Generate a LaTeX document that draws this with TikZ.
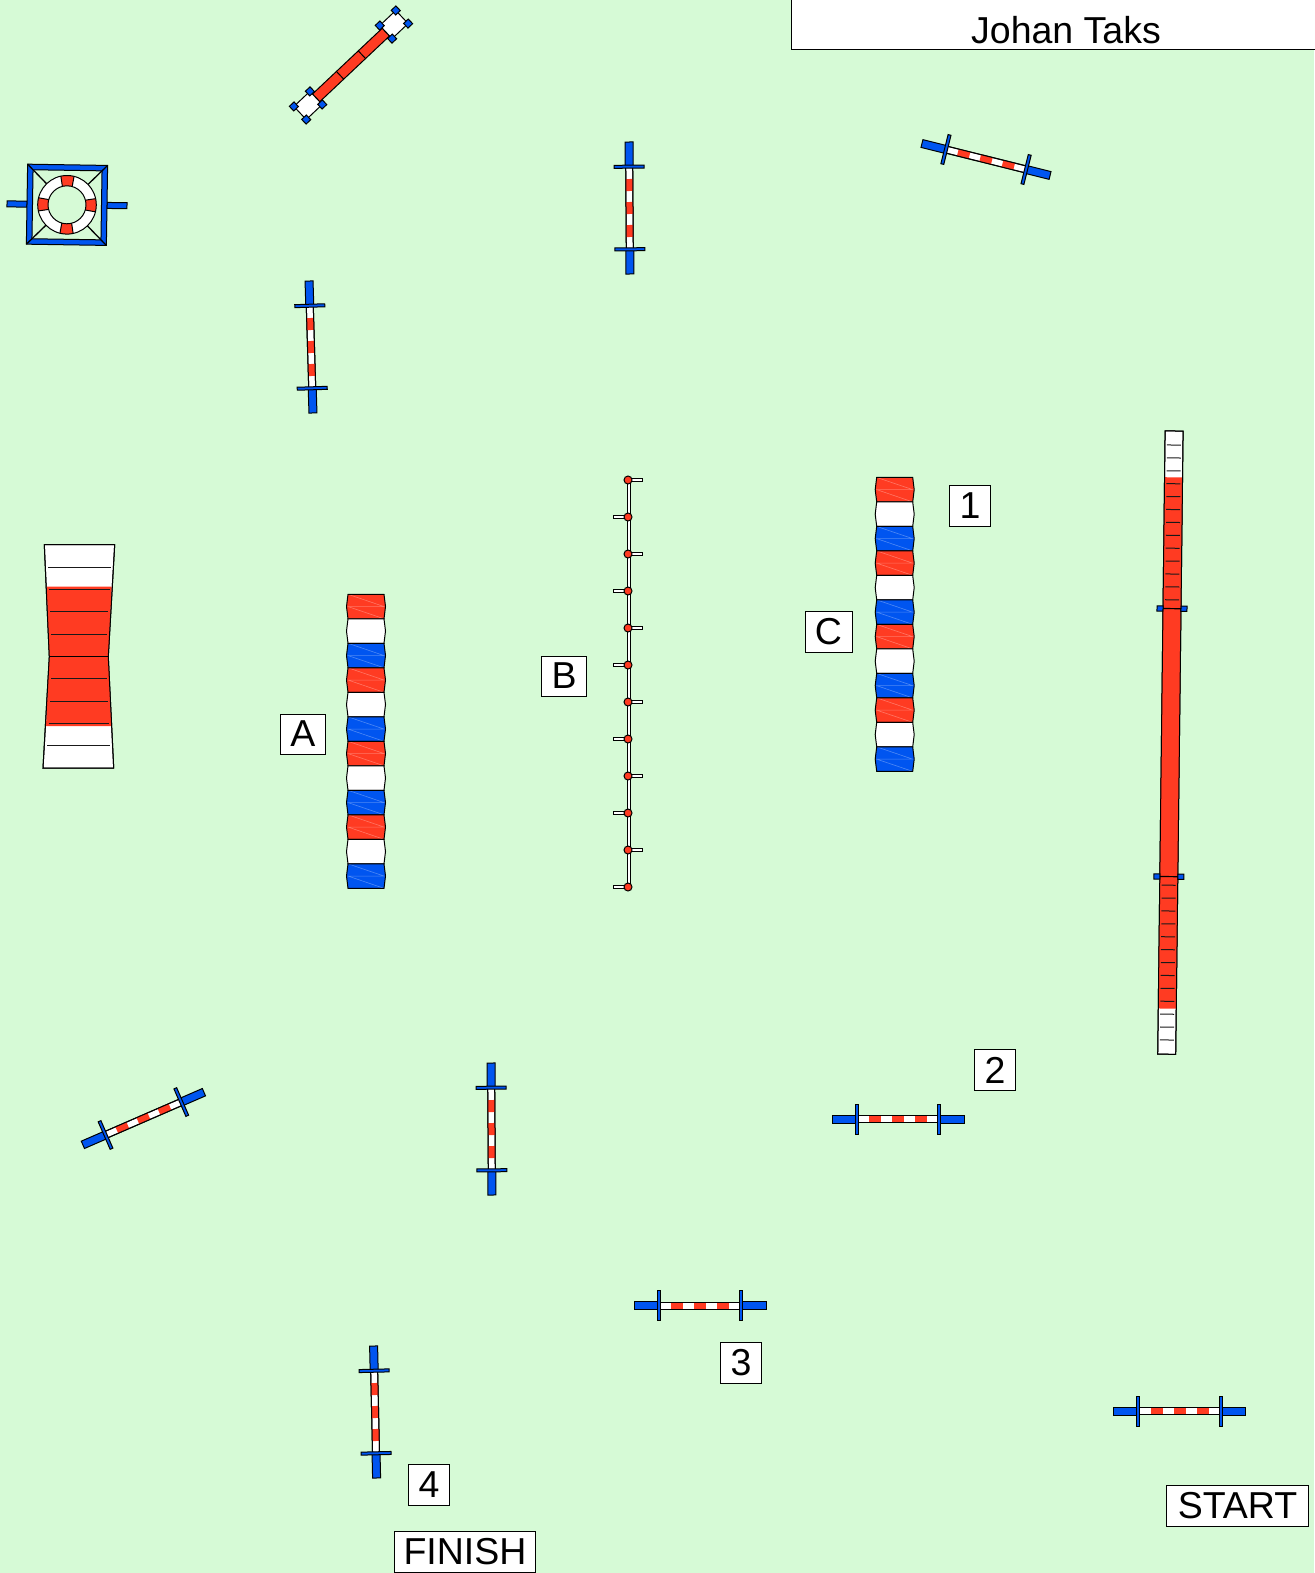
\documentclass[tikz,border=0pt]{standalone}
\usepackage{fontspec}
\setmainfont{Liberation Sans}
\definecolor{turf}{HTML}{D6FAD6}
\definecolor{obred}{HTML}{FF3B22}
\definecolor{obblue}{HTML}{0055F0}

\begin{document}
\begin{tikzpicture}[
  x=1pt,y=-1pt,
  line/.style={draw=black,line width=1pt},
  tick/.style={draw=black!90,line width=1pt},
  label/.style={draw=black,line width=0.7pt,fill=white,inner sep=0pt,font=\fontsize{37.5}{42}\selectfont,text=black},
  hurdle/.pic={
    \draw[line,fill=white] (-41,-3.5) rectangle (41,3.5);
    \foreach \s in {-29,-6,17}
      \fill[obred] (\s,-3.5) rectangle (\s+12,3.5);
    \draw[line] (-41,-3.5) rectangle (41,3.5);
    \draw[line,fill=obblue] (-66,-4) rectangle (-41,4);
    \draw[line,fill=obblue] (41,-4) rectangle (66,4);
    \draw[line,fill=obblue] (-42.8,-15) rectangle (-39.8,15);
    \draw[line,fill=obblue] (39.8,-15) rectangle (42.8,15);
  },
  tubeseg/.pic={
    \path[pic actions] (-18,0)--(18,0)--(19.5,12.25)--(18,24.5)--(-18,24.5)--(-19.5,12.25)--cycle;
    \draw[white,opacity=0.3,line width=0.6pt] (-18,0)--(18,12.25)--(-18,12.25)--(18,24.5);
    \draw[line] (-18,0)--(18,0)--(19.5,12.25)--(18,24.5)--(-18,24.5)--(-19.5,12.25)--cycle;
  },
  tube/.pic={
    \foreach \i/\c in {0/obred,1/white,2/obblue,3/obred,4/white,5/obblue,6/obred,7/white,8/obblue,9/obred,10/white,11/obblue}
      \pic[fill=\c] at (0,24.5*\i) {tubeseg};
  },
]
\useasboundingbox (0,0) rectangle (1314,1573);
\fill[turf] (0,0) rectangle (1314,1573);

\node[label,anchor=north west,minimum width=530pt,minimum height=51.5pt] (owner) at (790.5,-2) {};
\node[font=\fontsize{37.5}{42}\selectfont] (ownertext) at (1066,30) {Johan Taks};

\pic at (986,159.5) [rotate=-14] {hurdle};
\pic at (629.5,208) [rotate=-89.6] {hurdle};
\pic at (311,347) [rotate=-88.3] {hurdle};
\pic at (143.4,1118.5) [rotate=23.5] {hurdle};
\pic at (491.5,1129) [rotate=-89.6] {hurdle};
\pic at (898,1119) {hurdle};
\pic at (700,1305.5) {hurdle};
\pic at (375.1,1412) [rotate=-88.7] {hurdle};
\pic at (1179.5,1411) {hurdle};

% tyre
\begin{scope}[shift={(67,204.8)},rotate=-0.9]
  \draw[line,fill=obblue] (-60,-3) rectangle (-40,3);
  \draw[line,fill=obblue] (40,-3) rectangle (60,3);
  \foreach \a in {45,135,225,315}
    \draw[draw=black,line width=1.3pt] (\a:56.5pt)--(\a:29pt);
  \fill[white,even odd rule] (0,0) circle (29.3) (0,0) circle (19);
  \foreach \a in {0,90,180,270}
    \fill[obred] (\a-15:19pt) arc[start angle=\a-15,end angle=\a+15,radius=19pt]
      -- (\a+13:29.3pt) arc[start angle=\a+13,end angle=\a-13,radius=29.3pt] -- cycle;
  \foreach \a in {0,90,180,270} {
    \draw[line] (\a-15:19pt)--(\a-13:29.3pt);
    \draw[line] (\a+15:19pt)--(\a+13:29.3pt);
  }
  \draw[line] (0,0) circle (29.3);
  \draw[line] (0,0) circle (19);
  \draw[line,fill=obblue,even odd rule] (-40,-40) rectangle (40,40) (-34.5,-34.5) rectangle (34.5,34.5);
  \foreach \a in {45,135,225,315}
    \draw[draw=black,line width=1.3pt] (\a:56.5pt)--(\a:48.8pt);
\end{scope}

% long jump
\begin{scope}[shift={(351,65)},rotate=43.3]
  \draw[line,fill=obred] (-48,-5.3) rectangle (48,5.3);
  \draw[line] (-15,-5.3)--(-15,5.3);
  \draw[line] (15,-5.3)--(15,5.3);
  \foreach \s in {-1,1} {
    \draw[line,fill=white] (\s*48,-9) rectangle (\s*70,9);
    \foreach \u in {48,70}
      \foreach \v in {-9,9}
        \draw[line,fill=obblue] (\s*\u-3.2,\v-3.2) rectangle (\s*\u+3.2,\v+3.2);
  }
\end{scope}

% a-frame
\draw[line,fill=white] (44.3,544.7)--(114.7,544.7)--(108.3,656.7)--(113.7,768)--(43,768)--(49.3,656.7)--cycle;
\fill[obred] (46.7,586.7)--(111.7,586.7)--(108.3,656.7)--(111.3,726)--(46,726)--(49.3,656.7)--cycle;
\draw[line] (44.3,544.7)--(114.7,544.7)--(108.3,656.7)--(113.7,768)--(43,768)--(49.3,656.7)--cycle;
\foreach \y/\a/\b in {567/48/111,589.3/49/110,611.6/50/108,634/51/107,678.6/51/107,701/50/108,723.3/48.5/109,745.6/47/110}
  \draw[tick] (\a,\y)--(\b,\y);
\draw[draw=black,line width=1.4pt] (49.3,656.7)--(108.3,656.7);

% dog walk
\begin{scope}[shift={(1170.4,742.6)},rotate=-0.68]
  \draw[line,fill=white] (-9,-311.65) rectangle (9,311.65);
  \fill[obred] (-9,-265.3) rectangle (9,266);
  \draw[line] (-9,-311.65) rectangle (9,311.65);
  \foreach \i in {0,...,12} {
    \draw[tick] (-7,-297.6+12.9*\i)--(7,-297.6+12.9*\i);
    \draw[tick] (-7,142.6+12.9*\i)--(7,142.6+12.9*\i);
  }
  \foreach \y in {-134,134} {
    \draw[line,fill=obblue] (-15,\y-2.6) rectangle (-9,\y+2.6);
    \draw[line,fill=obblue] (9,\y-2.6) rectangle (15,\y+2.6);
    \draw[draw=black,line width=1.2pt] (-9,\y)--(9,\y);
  }
\end{scope}

% weave poles
\draw[line,fill=white] (627.3,480)  rectangle (630,887);
\foreach \i in {0,...,11} {
  \pgfmathsetmacro{\ypole}{480+37*\i}
  \pgfmathsetmacro{\xtip}{isodd(\i) ? 613.5 : 642.5}
  \draw[line,fill=white] (628.5,\ypole-1.8) rectangle (\xtip,\ypole+1.8);
  \draw[line,fill=obred] (628,\ypole) circle (4);
}

\pic at (366,594.3) {tube};
\pic at (894.7,477.4) {tube};

\node[label,minimum width=45pt,minimum height=40pt] (labelA) at (303,734) {A};
\node[label,minimum width=45pt,minimum height=40pt] (labelB) at (564,676) {B};
\node[label,minimum width=47pt,minimum height=41pt] (labelC) at (828.5,632) {C};
\node[label,minimum width=41pt,minimum height=41pt] (labelone) at (970,505.5) {1};
\node[label,minimum width=41pt,minimum height=41pt] (labeltwo) at (995,1070) {2};
\node[label,minimum width=41pt,minimum height=41pt] (labelthree) at (741,1363) {3};
\node[label,minimum width=41pt,minimum height=41pt] (labelfour) at (429,1484.5) {4};
\node[label,minimum width=141.5pt,minimum height=41pt] (start) at (1237.5,1506) {START};
\node[label,minimum width=141.5pt,minimum height=41pt] (finish) at (465,1552) {FINISH};
\end{tikzpicture}
\end{document}
